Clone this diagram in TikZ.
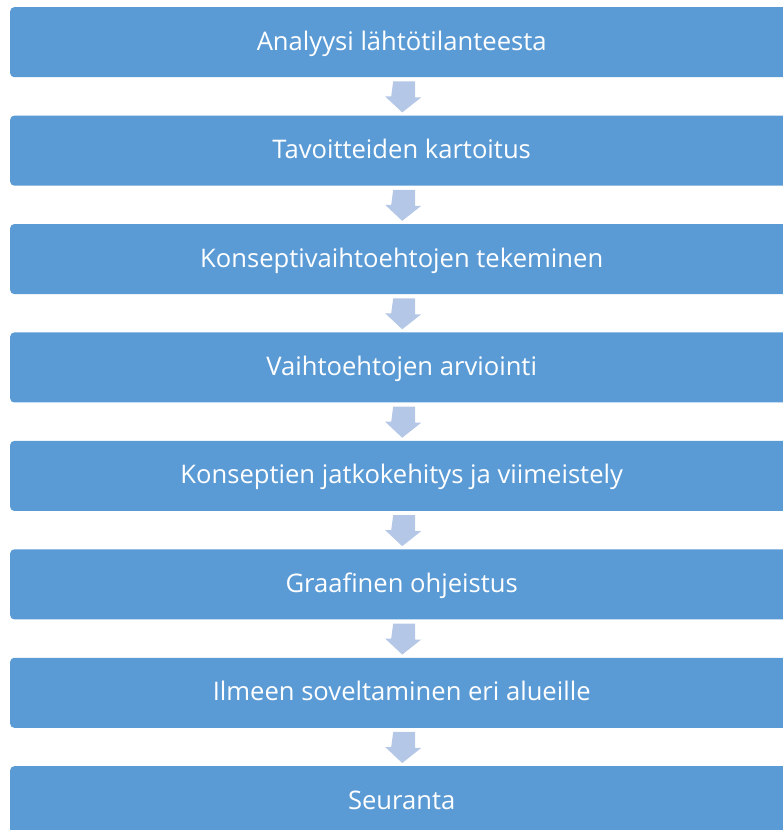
\documentclass[tikz,border=0pt]{standalone}
\usepackage{fontspec}
\setmainfont{Open Sans}[Ligatures=NoCommon]
\usetikzlibrary{calc}
\definecolor{boxblue}{HTML}{5B9BD5}
\definecolor{arrowblue}{HTML}{B4C7E7}
\begin{document}
\begin{tikzpicture}[x=1pt,y=-1pt,
  stepbox/.style={fill=boxblue, rounded corners=4pt, minimum width=783pt, minimum height=70pt,
    inner sep=0pt, anchor=north west, text=white, text height=26pt, text depth=10pt,
    font=\fontsize{25.6}{30}\selectfont},
  flowarrow/.style={fill=arrowblue, draw=none}]
\useasboundingbox (0,0) rectangle (783,830);
\clip (0,0) rectangle (783,830);
\foreach \i/\t in {1/Analyysi lähtötilanteesta,2/Tavoitteiden kartoitus,3/Konseptivaihtoehtojen tekeminen,4/Vaihtoehtojen arviointi,5/Konseptien jatkokehitys ja viimeistely,6/Graafinen ohjeistus,7/Ilmeen soveltaminen eri alueille,8/Seuranta}{
  \node[stepbox] (b\i) at (10,{7+108.43*(\i-1)}) {\t};
}
\foreach \i [evaluate=\i as \j using int(\i+1)] in {1,...,7}{
  \fill[flowarrow] ($(b\i.south)+(-8.5,4)$) -- ++(22,0) -- ++(0,16) -- ++(6,0)
    -- ($(b\j.north)+(0.5,-3)$) -- ++(-17,-16) -- ++(6,0) -- cycle;
}
\end{tikzpicture}
\end{document}
